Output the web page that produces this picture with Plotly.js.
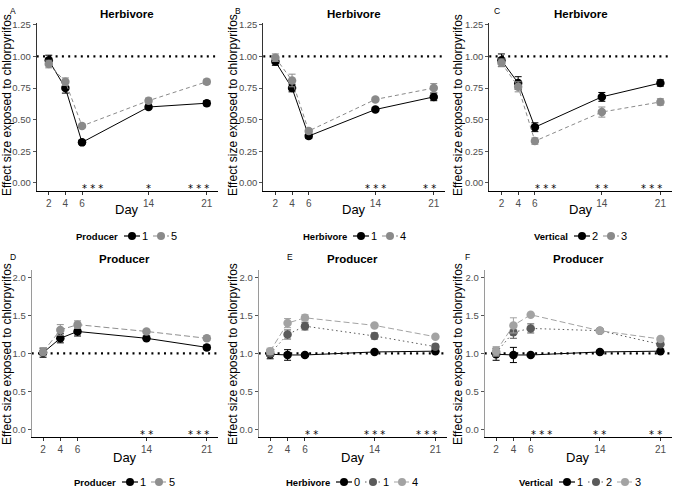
<!DOCTYPE html>
<html>
<head>
<meta charset="utf-8">
<script src="https://cdn.plot.ly/plotly-3.0.1.min.js"></script>
<style>
  html, body { margin: 0; padding: 0; background: #ffffff; }
  #chart { width: 675px; height: 489px; }
</style>
</head>
<body>
<div id="chart"></div>
<script>
// Sampling days
const days = [2, 4, 6, 14, 21];

// Row 1: herbivore response
const herbByProducer1 = [0.97, 0.75, 0.32, 0.60, 0.63];
const herbByProducer1Err = [0.04, 0.04, 0.015, 0.015, 0.02];
const herbByProducer5 = [0.94, 0.80, 0.45, 0.65, 0.80];
const herbByProducer5Err = [0.03, 0.03, 0.015, 0.02, 0.02];

const herbByHerbivore1 = [0.96, 0.75, 0.37, 0.58, 0.68];
const herbByHerbivore1Err = [0.03, 0.03, 0.02, 0.015, 0.03];
const herbByHerbivore4 = [0.99, 0.81, 0.41, 0.66, 0.75];
const herbByHerbivore4Err = [0.03, 0.05, 0.02, 0.015, 0.035];

const herbByVertical2 = [0.97, 0.79, 0.44, 0.68, 0.79];
const herbByVertical2Err = [0.05, 0.05, 0.035, 0.035, 0.025];
const herbByVertical3 = [0.95, 0.76, 0.33, 0.56, 0.64];
const herbByVertical3Err = [0.03, 0.04, 0.025, 0.04, 0.025];

// Row 2: producer response
const prodByProducer1 = [1.01, 1.20, 1.29, 1.20, 1.08];
const prodByProducer1Err = [0.06, 0.06, 0.06, 0.02, 0.03];
const prodByProducer5 = [1.02, 1.31, 1.38, 1.29, 1.20];
const prodByProducer5Err = [0.05, 0.07, 0.05, 0.02, 0.03];

const prodByHerbivore0 = [0.99, 0.98, 0.98, 1.02, 1.03];
const prodByHerbivore0Err = [0.06, 0.07, 0.02, 0.02, 0.02];
const prodByHerbivore1 = [1.00, 1.25, 1.36, 1.23, 1.09];
const prodByHerbivore1Err = [0.04, 0.06, 0.05, 0.04, 0.03];
const prodByHerbivore4 = [1.03, 1.40, 1.47, 1.37, 1.22];
const prodByHerbivore4Err = [0.04, 0.06, 0.04, 0.02, 0.02];

const prodByVertical1 = [0.99, 0.98, 0.98, 1.02, 1.03];
const prodByVertical1Err = [0.08, 0.10, 0.02, 0.02, 0.02];
const prodByVertical2 = [1.01, 1.28, 1.33, 1.30, 1.12];
const prodByVertical2Err = [0.05, 0.08, 0.06, 0.02, 0.02];
const prodByVertical3 = [1.03, 1.37, 1.51, 1.30, 1.19];
const prodByVertical3Err = [0.06, 0.10, 0.02, 0.02, 0.02];

// Significance labels per panel
const sigDaysA = [6, 14, 21];  const sigA = ['***', '*', '***'];
const sigDaysB = [14, 21];     const sigB = ['***', '**'];
const sigDaysC = [6, 14, 21];  const sigC = ['***', '**', '***'];
const sigDaysD = [14, 21];     const sigD = ['**', '***'];
const sigDaysE = [6, 14, 21];  const sigE = ['**', '***', '***'];
const sigDaysF = [6, 14, 21];  const sigF = ['***', '**', '**'];

// Tick labels
const dayTicks = [2, 4, 6, 14, 21];
const herbTicks = [0, 0.25, 0.5, 0.75, 1.0, 1.25];
const herbTickText = ['0.00', '0.25', '0.50', '0.75', '1.00', '1.25'];
const prodTicks = [0, 0.5, 1.0, 1.5, 2.0];
const prodTickText = ['0.0', '0.5', '1.0', '1.5', '2.0'];

const referenceLevel = 1;

const FONT = 'Liberation Sans, Arial, Helvetica, sans-serif';
const W = 675, H = 489;
const px = v => v / W;
const py = v => 1 - v / H;

const panels = [
  { label: 'A', title: 'Herbivore', legendTitle: 'Producer', row: 1, left: 36.7, right: 218, labelX: 13, yTitleX: 7, legendRight: 120,
    series: [
      { name: '1', y: herbByProducer1, err: herbByProducer1Err, color: '#000000', dash: 'solid' },
      { name: '5', y: herbByProducer5, err: herbByProducer5Err, color: '#8a8a8a', dash: '4px,3px' }],
    sigDays: sigDaysA, sig: sigA },
  { label: 'B', title: 'Herbivore', legendTitle: 'Herbivore', row: 1, left: 263.3, right: 445, labelX: 238, yTitleX: 233, legendRight: 349,
    series: [
      { name: '1', y: herbByHerbivore1, err: herbByHerbivore1Err, color: '#000000', dash: 'solid' },
      { name: '4', y: herbByHerbivore4, err: herbByHerbivore4Err, color: '#8a8a8a', dash: '4px,3px' }],
    sigDays: sigDaysB, sig: sigB },
  { label: 'C', title: 'Herbivore', legendTitle: 'Vertical', row: 1, left: 489.3, right: 671.7, labelX: 497, yTitleX: 458, legendRight: 570,
    series: [
      { name: '2', y: herbByVertical2, err: herbByVertical2Err, color: '#000000', dash: 'solid' },
      { name: '3', y: herbByVertical3, err: herbByVertical3Err, color: '#8a8a8a', dash: '4px,3px' }],
    sigDays: sigDaysC, sig: sigC },
  { label: 'D', title: 'Producer', legendTitle: 'Producer', row: 2, left: 31.7, right: 218, labelX: 13, yTitleX: 7, legendRight: 118,
    series: [
      { name: '1', y: prodByProducer1, err: prodByProducer1Err, color: '#000000', dash: 'solid' },
      { name: '5', y: prodByProducer5, err: prodByProducer5Err, color: '#8f8f8f', dash: '6px,3px' }],
    sigDays: sigDaysD, sig: sigD },
  { label: 'E', title: 'Producer', legendTitle: 'Herbivore', row: 2, left: 258.7, right: 446.7, labelX: 290, yTitleX: 233, legendRight: 332,
    series: [
      { name: '0', y: prodByHerbivore0, err: prodByHerbivore0Err, color: '#000000', dash: 'solid' },
      { name: '1', y: prodByHerbivore1, err: prodByHerbivore1Err, color: '#5a5a5a', dash: '1.5px,3px' },
      { name: '4', y: prodByHerbivore4, err: prodByHerbivore4Err, color: '#a3a3a3', dash: '6px,3px' }],
    sigDays: sigDaysE, sig: sigE },
  { label: 'F', title: 'Producer', legendTitle: 'Vertical', row: 2, left: 484.7, right: 671.7, labelX: 467, yTitleX: 458, legendRight: 555,
    series: [
      { name: '1', y: prodByVertical1, err: prodByVertical1Err, color: '#000000', dash: 'solid' },
      { name: '2', y: prodByVertical2, err: prodByVertical2Err, color: '#5a5a5a', dash: '1.5px,3px' },
      { name: '3', y: prodByVertical3, err: prodByVertical3Err, color: '#a3a3a3', dash: '6px,3px' }],
    sigDays: sigDaysF, sig: sigF }
];

const rows = {
  1: { top: 23, bottom: 191, yRange: [-0.065, 1.265], xRange: [0.55, 22.35], ticks: herbTicks, tickText: herbTickText,
       yAxisColor: '#333333', titleY: 14, dayY: 210, legendY: 236, labelY: 11, yTitleY: 105 },
  2: { top: 270, bottom: 437.3, yRange: [-0.105, 2.1], xRange: [0.68, 22.3], ticks: prodTicks, tickText: prodTickText,
       yAxisColor: '#9a9a9a', titleY: 259, dayY: 457, legendY: 482, labelY: 257, yTitleY: 354 }
};

const data = [];
const layout = {
  width: W, height: H,
  margin: { l: 0, r: 0, t: 0, b: 0 },
  paper_bgcolor: '#ffffff', plot_bgcolor: '#ffffff',
  font: { family: FONT, color: '#000000' },
  showlegend: false,
  annotations: [], shapes: []
};

panels.forEach((p, i) => {
  const n = i + 1;
  const xa = n === 1 ? 'x' : 'x' + n;
  const ya = n === 1 ? 'y' : 'y' + n;
  const xKey = n === 1 ? 'xaxis' : 'xaxis' + n;
  const yKey = n === 1 ? 'yaxis' : 'yaxis' + n;
  const r = rows[p.row];
  const cx = (p.left + p.right) / 2;

  layout[xKey] = {
    domain: [px(p.left), px(p.right)], anchor: ya, range: r.xRange,
    tickvals: dayTicks, ticktext: dayTicks.map(String),
    showgrid: false, zeroline: false, showline: true, linecolor: '#000000', linewidth: 1,
    ticks: 'outside', ticklen: 3, tickcolor: '#333333', tickwidth: 1,
    tickfont: { family: FONT, size: 10, color: '#4d4d4d' }, fixedrange: true
  };
  layout[yKey] = {
    domain: [py(r.bottom), py(r.top)], anchor: xa, range: r.yRange,
    tickvals: r.ticks, ticktext: r.tickText,
    showgrid: false, zeroline: false, showline: true, linecolor: r.yAxisColor, linewidth: 1,
    ticks: 'outside', ticklen: 3, tickcolor: '#555555', tickwidth: 1,
    tickfont: { family: FONT, size: 9.5, color: '#4d4d4d' }, fixedrange: true
  };

  // dotted reference line at the unexposed level
  layout.shapes.push({
    type: 'line', xref: xa + ' domain', yref: ya, x0: 0, x1: 1, y0: referenceLevel, y1: referenceLevel,
    line: { color: '#000000', width: 2.2, dash: '2px,4.3px' }, layer: 'below'
  });

  p.series.forEach(s => {
    data.push({
      type: 'scatter', mode: 'lines+markers', x: days, y: s.y, name: s.name,
      xaxis: xa, yaxis: ya,
      line: { color: s.color, width: 1, dash: s.dash },
      marker: { color: s.color, size: 8.5, symbol: 'circle' },
      error_y: { type: 'data', array: s.err, visible: true, color: s.color, thickness: 1, width: 3.5 },
      hoverinfo: 'skip'
    });
  });

  // compact horizontal legend below the panel: bold title, then one key per series
  const ly = py(r.legendY);
  layout.annotations.push({
    xref: 'paper', yref: 'paper', x: px(p.legendRight), y: ly, xanchor: 'right', yanchor: 'middle',
    text: '<b>' + p.legendTitle + '</b>', showarrow: false, font: { family: FONT, size: 9.5, color: '#000000' }
  });
  p.series.forEach((s, k) => {
    const keyX = p.legendRight + 12 + k * 29;
    layout.shapes.push({
      type: 'line', xref: 'paper', yref: 'paper', x0: px(keyX - 8), x1: px(keyX + 8), y0: ly, y1: ly,
      line: { color: s.color, width: 1.2, dash: s.dash }
    });
    layout.shapes.push({
      type: 'circle', xref: 'paper', yref: 'paper', xsizemode: 'pixel', ysizemode: 'pixel',
      xanchor: px(keyX), yanchor: ly, x0: -4, x1: 4, y0: -4, y1: 4,
      fillcolor: s.color, line: { color: s.color, width: 0 }
    });
    layout.annotations.push({
      xref: 'paper', yref: 'paper', x: px(keyX + 13), y: ly, xanchor: 'center', yanchor: 'middle',
      text: s.name, showarrow: false, font: { family: FONT, size: 11, color: '#000000' }
    });
  });

  // panel title
  layout.annotations.push({
    xref: 'paper', yref: 'paper', x: px(cx), y: py(r.titleY), xanchor: 'center', yanchor: 'middle',
    text: '<b>' + p.title + '</b>', showarrow: false, font: { family: FONT, size: 11.5, color: '#000000' }
  });
  // panel letter
  layout.annotations.push({
    xref: 'paper', yref: 'paper', x: px(p.labelX), y: py(r.labelY), xanchor: 'center', yanchor: 'middle',
    text: p.label, showarrow: false, font: { family: FONT, size: 8.5, color: '#000000' }
  });
  // y title
  layout.annotations.push({
    xref: 'paper', yref: 'paper', x: px(p.yTitleX), y: py(r.yTitleY),
    xanchor: 'center', yanchor: 'middle', textangle: -90,
    text: 'Effect size exposed to chlorpyrifos', showarrow: false,
    font: { family: FONT, size: 12, color: '#000000' }
  });
  // x title
  layout.annotations.push({
    xref: 'paper', yref: 'paper', x: px(cx), y: py(r.dayY), xanchor: 'center', yanchor: 'middle',
    text: 'Day', showarrow: false, font: { family: FONT, size: 13, color: '#000000' }
  });
  // significance stars, sitting just above the day axis
  p.sigDays.forEach((d, k) => {
    let anchor = 'center', shift = 0;
    if (d <= 6) { anchor = 'left'; shift = -2; }
    else if (d >= 21) { anchor = 'right'; shift = 4; }
    layout.annotations.push({
      xref: xa, yref: ya + ' domain', x: d, y: 0, xanchor: anchor, xshift: shift,
      yanchor: 'bottom', yshift: -5,
      text: p.sig[k].split('').join(' '), showarrow: false,
      font: { family: 'DejaVu Sans, sans-serif', size: 10, color: '#000000' }
    });
  });
});

Plotly.newPlot('chart', data, layout, { staticPlot: true, displayModeBar: false });
</script>
</body>
</html>
